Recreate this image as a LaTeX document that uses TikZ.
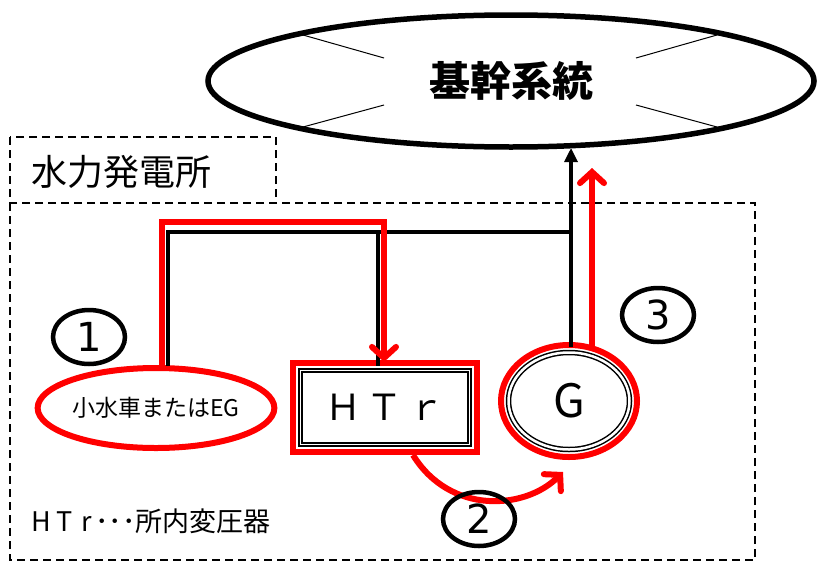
\documentclass[tikz,border=0pt]{standalone}
\usepackage{fontspec}
\setmainfont{Noto Sans CJK JP}
\newfontfamily\digitfont{DejaVu Sans}
\usetikzlibrary{arrows.meta,shapes.geometric}
\begin{document}
\begin{tikzpicture}[x=1pt,y=-1pt,
  dashbox/.style={draw, dash pattern=on 8pt off 5pt, line width=2.8pt},
  wire/.style={draw, line width=3.2pt},
  redw/.style={draw=red, line width=6pt},
  redtip/.style={-{Straight Barb[length=11pt,width=24pt,line cap=round]}},
  numcirc/.style={draw, ellipse, line width=4.5pt, minimum width=72pt, minimum height=54pt, inner sep=0pt, font=\digitfont\fontsize{40}{40}\selectfont},
]
\useasboundingbox (0,0) rectangle (818,570);
% dashed boxes
\draw[dashbox] (10,137) rectangle (276,203);
\draw[dashbox] (10,203) rectangle (755,560);
\node[anchor=west, font=\fontsize{36}{36}\selectfont] (title) at (28,172) {水力発電所};
% system ellipse
\node[draw, ellipse, line width=5.5pt, minimum width=606pt, minimum height=132pt, inner sep=0pt, font=\fontsize{41}{41}\selectfont\bfseries] (sys) at (511,81) {基幹系統};
\draw[line width=1pt] (303,35) -- (384,58);
\draw[line width=1pt] (303,127) -- (384,105);
\draw[line width=1pt] (636,58) -- (717,35);
\draw[line width=1pt] (636,105) -- (717,127);
% equipment
\node[draw=red, ellipse, line width=6pt, minimum width=232pt, minimum height=80pt, inner sep=0pt, font=\fontsize{23}{23}\selectfont] (eg) at (156,408) {小水車またはEG};
\node[draw=red, line width=6pt, minimum width=184pt, minimum height=89pt, inner sep=0pt] (htrout) at (385,407.5) {};
\node[draw, double, double distance=1.5pt, line width=1.4pt, minimum width=169pt, minimum height=74pt, inner sep=0pt, font=\fontsize{36}{36}\selectfont] (htr) at (385,407.5) {Ｈ\hspace{6pt}Ｔ\hspace{6pt}ｒ};
\node[draw=red, ellipse, line width=6pt, minimum width=136pt, minimum height=112pt, inner sep=0pt] (gout) at (569,401) {};
\node[draw, ellipse, double, double distance=2.5pt, line width=1.5pt, minimum width=121pt, minimum height=97pt, inner sep=0pt, font=\fontsize{46}{46}\selectfont] (G) at (569,401) {G};
% black wires
\coordinate (bus1) at (168,232);
\coordinate (bus2) at (378,232);
\coordinate (bus3) at (571,232);
\coordinate (gtop) at (571,347);
\coordinate (systop) at (571,148);
\draw[wire] (168,366) -- (bus1) -- (bus3);
\draw[wire] (bus2) -- (378,366);
\draw[wire, -{Triangle[length=14pt,width=13pt]}] (gtop) -- (systop);
% red paths
\coordinate (r1a) at (162,366);
\coordinate (r1b) at (162,222);
\coordinate (r1c) at (384,222);
\coordinate (r1d) at (384,362);
\draw[redw, redtip] (r1a) -- (r1b) -- (r1c) -- (r1d);
\coordinate (r3a) at (592,350);
\coordinate (r3b) at (592,168);
\draw[redw, redtip] (r3a) -- (r3b);
\coordinate (r2a) at (413,455);
\coordinate (r2b) at (563,472);
\draw[redw, redtip] (r2a) .. controls (450,515) and (525,510) .. (r2b);
% numbers
\node[numcirc] (n1) at (89,337) {1};
\node[numcirc] (n2) at (479,519) {2};
\node[numcirc] (n3) at (658,315) {3};
% legend
\node[anchor=west, inner sep=0pt, font=\fontsize{27}{27}\selectfont] (legend) at (31,521) {H\hspace{6pt}T\hspace{8pt}r\hspace{4pt}･･･所内変圧器};
\end{tikzpicture}
\end{document}
